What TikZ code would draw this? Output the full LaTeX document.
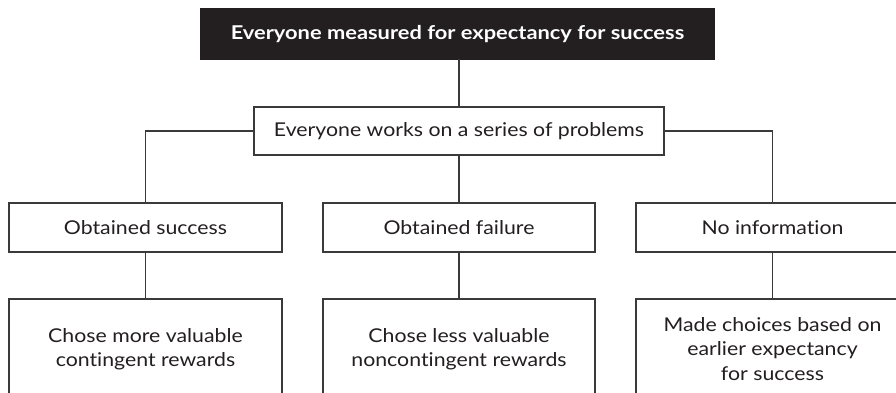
\documentclass[tikz,border=0pt]{standalone}
\usepackage{fontspec}
\setmainfont{Lato}[FakeStretch=1.12,RawFeature={-liga;-dlig}]
\newfontfamily\topfont{Lato Bold}[FakeStretch=1.15,RawFeature={-liga;-dlig}]
\definecolor{ink}{HTML}{231F20}
\definecolor{edge}{HTML}{3A3A3A}
\begin{document}
\begin{tikzpicture}[x=1pt,y=-1pt,
  every node/.style={inner sep=0pt, outer sep=0pt, text=ink, font=\fontsize{19}{24.5}\selectfont},
  box/.style={draw=edge, line width=1.4pt, fill=white, align=center, anchor=north west},
  conn/.style={draw=edge, line width=1.4pt}]
\useasboundingbox (0,0) rectangle (896,392);
\clip (0,0) rectangle (896,392);
\node[box, fill=ink, draw=ink, minimum width=513pt, minimum height=50pt, text=white, font=\fontsize{19}{24}\topfont] (top) at (201,9) {Everyone measured for expectancy for success};
\node[box, minimum width=410pt, minimum height=48pt] (mid) at (254,107) {Everyone works on a series of problems};
\node[box, minimum width=273pt, minimum height=49pt] (s) at (9,203) {Obtained success};
\node[box, minimum width=272pt, minimum height=49pt] (f) at (323,203) {Obtained failure};
\node[box, minimum width=273pt, minimum height=49pt] (n) at (636,203) {No information};
\node[box, minimum width=273pt, minimum height=100pt] (s2) at (9,299) {Chose more valuable\\contingent rewards};
\node[box, minimum width=272pt, minimum height=100pt] (f2) at (323,299) {Chose less valuable\\noncontingent rewards};
\node[box, minimum width=273pt, minimum height=100pt] (n2) at (636,299) {Made choices based on\\earlier expectancy\\for success};
\draw[conn] (mid.north) -- (mid.north |- top.south);
\draw[conn] (mid.west) -| (s.north);
\draw[conn] (mid.east) -| (n.north);
\draw[conn] (mid.south) -- (f.north);
\draw[conn] (s.south) -- (s2.north);
\draw[conn] (f.south) -- (f2.north);
\draw[conn] (n.south) -- (n2.north);
\end{tikzpicture}
\end{document}
